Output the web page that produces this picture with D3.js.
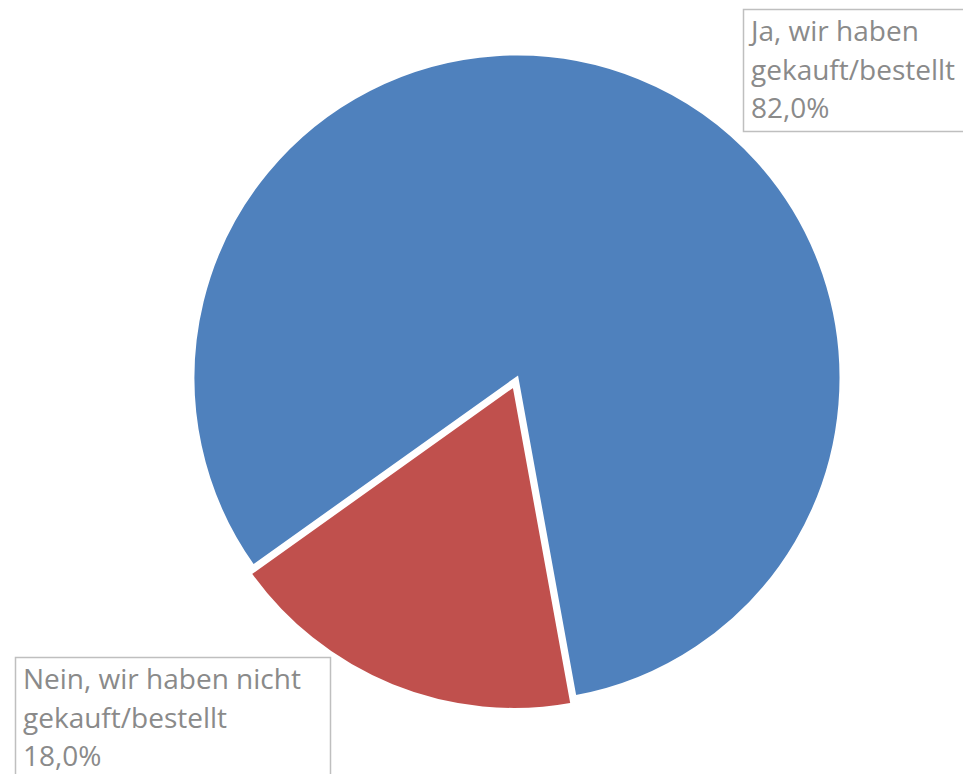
<!DOCTYPE html>
<html>
<head>
<meta charset="utf-8">
<script src="https://cdn.jsdelivr.net/npm/d3@7"></script>
<style>
  body { margin: 0; background: #fff; }
  svg { display: block; }
</style>
</head>
<body>
<svg id="chart" width="963" height="774"></svg>
<script>
var categories = ["Ja, wir haben gekauft/bestellt", "Nein, wir haben nicht gekauft/bestellt"],
    values = [82.0, 18.0],
    labelLines = [["Ja, wir haben", "gekauft/bestellt", "82,0%"],
                  ["Nein, wir haben nicht", "gekauft/bestellt", "18,0%"]],
    colors = ["#4F81BD", "#C0504D"];

var svg = d3.select('#chart'),
    cx = 517,
    cy = 378,
    radius = 324,
    explode = [0, 8],
    rot = 234.5 * Math.PI / 180;

var pie = d3.pie()
    .sort(null)
    .startAngle(rot)
    .endAngle(rot + 2 * Math.PI);

var arc = d3.arc()
    .innerRadius(0)
    .outerRadius(radius);

var slices = pie(values);

svg.append('g')
    .attr('transform', 'translate(' + cx + ',' + cy + ')')
    .selectAll('path')
    .data(slices)
    .enter().append('path')
    .attr('d', arc)
    .attr('fill', function (d, i) { return colors[i]; })
    .attr('stroke', '#fff')
    .attr('stroke-width', 3)
    .attr('stroke-linejoin', 'miter')
    .attr('transform', function (d, i) {
        var a = (d.startAngle + d.endAngle) / 2;
        return 'translate(' + (Math.sin(a) * explode[i]) + ',' + (-Math.cos(a) * explode[i]) + ')';
    });

// label boxes
var boxes = [
    {x: 743, y: 9, w: 240, h: 122},
    {x: 15, y: 657, w: 315, h: 140}
];

var labels = svg.append('g').selectAll('g')
    .data(labelLines)
    .enter().append('g')
    .attr('transform', function (d, i) { return 'translate(' + boxes[i].x + ',' + boxes[i].y + ')'; });

labels.append('rect')
    .attr('x', 0.5)
    .attr('y', 0.5)
    .attr('width', function (d, i) { return boxes[i].w; })
    .attr('height', function (d, i) { return boxes[i].h; })
    .attr('fill', '#fff')
    .attr('stroke', '#BFBFBF')
    .attr('stroke-width', 1.5);

labels.selectAll('text')
    .data(function (d) { return d; })
    .enter().append('text')
    .attr('x', 8)
    .attr('y', function (d, j) { return 32 + j * 38.5; })
    .attr('font-family', '"Open Sans", "Noto Sans", sans-serif')
    .attr('font-size', 28)
    .attr('fill', '#8A8A8A')
    .text(function (d) { return d; });
</script>
</body>
</html>
